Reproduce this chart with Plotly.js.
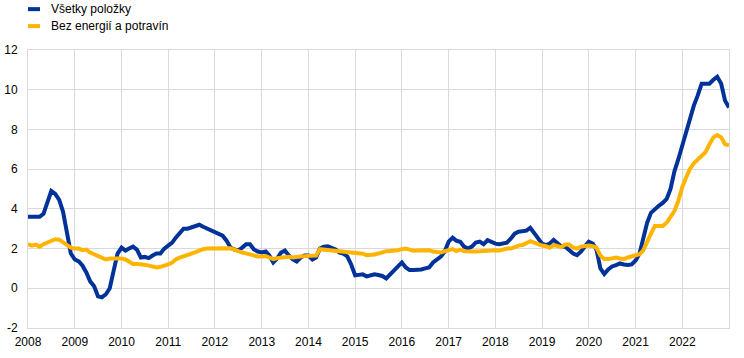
<!DOCTYPE html>
<html>
<head>
<meta charset="utf-8">
<script src="https://cdn.plot.ly/plotly-3.0.1.min.js"></script>
<style>
html,body{margin:0;padding:0;background:#fff;}
#chart{width:744px;height:358px;}
</style>
</head>
<body>
<div id="chart"></div>
<script>
// Series names
var seriesNames = ["Všetky položky", "Bez energií a potravín"];
// Monthly observations, January 2008 - January 2023
var startYear = 2008;
var allItems = [
  3.6, 3.6, 3.65, 3.6, 3.75, 4.3, 4.9, 4.75, 4.45, 3.85, 2.9, 1.75,
  1.45, 1.35, 1.15, 0.8, 0.35, 0.1, -0.4, -0.45, -0.3, 0.0, 0.9, 1.75,
  2.05, 1.9, 2.0, 2.1, 1.95, 1.55, 1.58, 1.52, 1.65, 1.75, 1.75, 2.0,
  2.15, 2.3, 2.55, 2.8, 3.0, 3.0, 3.05, 3.1, 3.2, 3.1, 3.0, 2.95,
  2.8, 2.75, 2.65, 2.4, 2.05, 1.95, 1.9, 2.05, 2.22, 2.22, 1.95, 1.85,
  1.8, 1.85, 1.65, 1.3, 1.5, 1.8, 1.9, 1.65, 1.45, 1.35, 1.55, 1.65,
  1.65, 1.45, 1.55, 2.0, 2.1, 2.12, 2.05, 1.95, 1.8, 1.75, 1.6, 1.2,
  0.65, 0.65, 0.7, 0.6, 0.65, 0.7, 0.67, 0.62, 0.5, 0.7, 0.85, 1.05,
  1.3, 1.05, 0.92, 0.92, 0.92, 0.95, 1.0, 1.05, 1.3, 1.45, 1.6, 1.85,
  2.35, 2.55, 2.4, 2.34, 2.1, 2.0, 2.1, 2.3, 2.35, 2.22, 2.42, 2.34,
  2.25, 2.22, 2.26, 2.3, 2.5, 2.75, 2.85, 2.9, 2.9, 3.05, 2.76, 2.47,
  2.25, 2.17, 2.25, 2.44, 2.3, 2.1, 2.09, 1.9, 1.75, 1.67, 1.85, 2.1,
  2.34, 2.25, 1.95, 1.0, 0.72, 0.95, 1.1, 1.17, 1.25, 1.2, 1.17, 1.2,
  1.4, 1.75, 2.5, 3.3, 3.8, 4.0, 4.15, 4.3, 4.5, 5.0, 5.9, 6.5,
  7.2, 7.8, 8.6, 9.2, 9.7, 10.3, 10.3, 10.3, 10.5, 10.65, 10.3, 9.45,
  9.1
];
var exEnergyFood = [
  2.22, 2.15, 2.2, 2.1, 2.22, 2.3, 2.39, 2.47, 2.45, 2.3, 2.15, 2.05,
  2.0, 2.0, 1.92, 1.95, 1.8, 1.7, 1.6, 1.55, 1.45, 1.5, 1.5, 1.52,
  1.5, 1.45, 1.35, 1.22, 1.22, 1.22, 1.18, 1.14, 1.1, 1.05, 1.08, 1.12,
  1.2, 1.3, 1.45, 1.55, 1.6, 1.67, 1.75, 1.82, 1.9, 1.97, 2.0, 2.0,
  2.0, 1.97, 1.98, 2.0, 2.02, 1.95, 1.85, 1.8, 1.76, 1.7, 1.65, 1.6,
  1.6, 1.62, 1.55, 1.47, 1.52, 1.55, 1.58, 1.59, 1.55, 1.55, 1.6, 1.62,
  1.62, 1.62, 1.65, 1.97, 1.95, 1.92, 1.9, 1.85, 1.84, 1.8, 1.78, 1.76,
  1.76, 1.76, 1.74, 1.67, 1.68, 1.7, 1.75, 1.82, 1.87, 1.88, 1.89, 1.92,
  1.97, 2.0, 1.95, 1.89, 1.9, 1.92, 1.92, 1.92, 1.85, 1.8, 1.8, 1.87,
  1.92, 1.97, 1.87, 1.95, 1.86, 1.84, 1.84, 1.85, 1.86, 1.88, 1.9, 1.92,
  1.92, 1.9, 1.95, 2.0, 2.0, 2.1, 2.15, 2.18, 2.3, 2.37, 2.3, 2.2,
  2.15, 2.12, 2.04, 2.18, 2.1, 2.07, 2.2, 2.2, 2.05, 2.0, 2.1, 2.12,
  2.15, 2.12, 2.05, 1.65, 1.47, 1.47, 1.5, 1.55, 1.5, 1.47, 1.55, 1.6,
  1.7, 1.72, 1.9, 2.4, 2.75, 3.14, 3.15, 3.14, 3.3, 3.6, 3.9, 4.4,
  5.1, 5.6, 6.0, 6.3, 6.5, 6.65, 6.85, 7.25, 7.6, 7.72, 7.6, 7.25,
  7.2
];
// Axis ticks
var yearLabels = ["2008","2009","2010","2011","2012","2013","2014","2015","2016","2017","2018","2019","2020","2021","2022"];
var yTickValues = [-2, 0, 2, 4, 6, 8, 10, 12];
var yTickLabels = ["-2", "0", "2", "4", "6", "8", "10", "12"];

var months = [];
for (var i = 0; i < allItems.length; i++) {
  var y = startYear + Math.floor(i / 12);
  var m = (i % 12) + 1;
  months.push(y + "-" + (m < 10 ? "0" + m : m) + "-01");
}
var yearDates = yearLabels.map(function (s) { return s + "-01-01"; });

var blue = "#003299", yellow = "#FFB400";
var font = "Liberation Sans, Arial, sans-serif";

var traces = [
  {x: months, y: allItems, name: seriesNames[0], type: "scatter", mode: "lines",
   line: {color: blue, width: 4}, hoverinfo: "skip"},
  {x: months, y: exEnergyFood, name: seriesNames[1], type: "scatter", mode: "lines",
   line: {color: yellow, width: 4}, hoverinfo: "skip"}
];

var layout = {
  width: 744, height: 358,
  margin: {l: 28, r: 15, t: 50, b: 30},
  paper_bgcolor: "#fff", plot_bgcolor: "#fff",
  showlegend: false,
  font: {family: font, size: 12, color: "#000"},
  xaxis: {
    type: "date",
    range: ["2008-01-01", "2023-01-01"],
    tickmode: "array", tickvals: yearDates, ticktext: yearLabels,
    showgrid: true, gridcolor: "#d9d9d9", gridwidth: 1,
    showline: true, mirror: true, linecolor: "#d9d9d9", linewidth: 1,
    ticks: "", ticklabelstandoff: 3, tickfont: {family: font, size: 12, color: "#000"},
    zeroline: false, fixedrange: true
  },
  yaxis: {
    range: [-2, 12],
    tickmode: "array", tickvals: yTickValues, ticktext: yTickLabels,
    showgrid: true, gridcolor: "#d9d9d9", gridwidth: 1,
    showline: true, mirror: true, linecolor: "#d9d9d9", linewidth: 1,
    ticks: "", ticklabelstandoff: 7, tickfont: {family: font, size: 12, color: "#000"},
    zeroline: false, fixedrange: true
  },
  shapes: [
    {type: "line", xref: "paper", yref: "paper", x0: 0, x1: 0.0171, y0: 1.147, y1: 1.147,
     line: {color: blue, width: 4}},
    {type: "line", xref: "paper", yref: "paper", x0: 0, x1: 0.0171, y0: 1.086, y1: 1.086,
     line: {color: yellow, width: 4}}
  ],
  annotations: [
    {xref: "paper", yref: "paper", x: 0.030, y: 1.147, xanchor: "left", yanchor: "middle",
     text: seriesNames[0], showarrow: false, font: {family: font, size: 12, color: "#000"}},
    {xref: "paper", yref: "paper", x: 0.030, y: 1.086, xanchor: "left", yanchor: "middle",
     text: seriesNames[1], showarrow: false, font: {family: font, size: 12, color: "#000"}}
  ]
};

Plotly.newPlot("chart", traces, layout, {displayModeBar: false, staticPlot: true});
</script>
</body>
</html>
